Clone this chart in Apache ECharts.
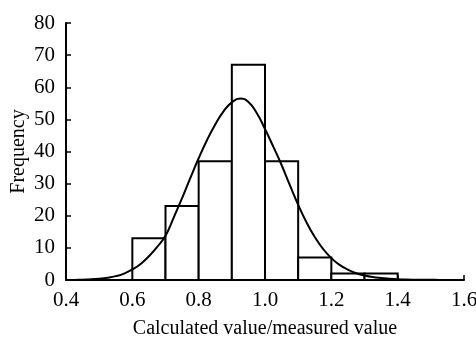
<!DOCTYPE html>
<html>
<head>
<meta charset="utf-8">
<script src="https://cdn.jsdelivr.net/npm/echarts@6/dist/echarts.min.js"></script>
<style>
  html, body { margin: 0; padding: 0; background: #fff; }
  #chart { width: 476px; height: 338px; }
</style>
</head>
<body>
<div id="chart"></div>
<script>
// histogram bins (calculated value / measured value)
var binStart = [0.6, 0.7, 0.8, 0.9, 1.0, 1.1, 1.2, 1.3];
var binEnd = [0.7, 0.8, 0.9, 1.0, 1.1, 1.2, 1.3, 1.4];
var counts = [13, 23, 37, 67, 37, 7, 2, 2];

// fitted curve
var curveX = [0.4, 0.425, 0.45, 0.475, 0.5, 0.525, 0.55, 0.575, 0.6, 0.625, 0.65, 0.675,
  0.7, 0.725, 0.75, 0.775, 0.8, 0.825, 0.85, 0.875, 0.9, 0.925, 0.95, 0.975,
  1.0, 1.025, 1.05, 1.075, 1.1, 1.125, 1.15, 1.175, 1.2, 1.225, 1.25, 1.275,
  1.3, 1.325, 1.35, 1.375, 1.4, 1.425, 1.45, 1.475, 1.5, 1.525, 1.55, 1.575, 1.6];
var curveY = [0, 0, 0.1, 0.2, 0.4, 0.7, 1.2, 2.0, 3.3, 5.0, 7.4, 10.3,
  13.8, 19.5, 25.5, 31.8, 37.9, 43.5, 48.4, 52.5, 55.3, 56.5, 55.4, 52,
  47, 41.5, 35.8, 29.5, 23.4, 18, 13.4, 9.7, 6.8, 4.7, 3.2, 2.1,
  1.4, 0.9, 0.6, 0.4, 0.25, 0.15, 0.1, 0.07, 0.05, 0.03, 0.02, 0, 0];

var font = 'Liberation Serif';

var chart = echarts.init(document.getElementById('chart'));

var barData = binStart.map(function (s, i) {
  return [s, binEnd[i], counts[i]];
});
var curveData = curveX.map(function (x, i) {
  return [x, curveY[i]];
});

var option = {
  animation: false,
  grid: { left: 66, right: 12, top: 23, bottom: 58, outerBoundsMode: 'none', containLabel: false },
  xAxis: {
    type: 'value',
    min: 0.4,
    max: 1.6,
    interval: 0.2,
    name: 'Calculated value/measured value',
    nameLocation: 'middle',
    nameGap: 39,
    nameMoveOverlap: false,
    nameTextStyle: { color: '#000', fontFamily: font, fontSize: 20 },
    axisLine: { show: true, lineStyle: { color: '#000', width: 2 } },
    axisTick: { show: true, inside: true, length: 5, lineStyle: { color: '#000', width: 1.5 } },
    axisLabel: {
      color: '#000', fontFamily: font, fontSize: 21, margin: 10,
      formatter: function (v) { return v.toFixed(1); }
    },
    splitLine: { show: false }
  },
  yAxis: {
    type: 'value',
    min: 0,
    max: 80,
    interval: 10,
    name: 'Frequency',
    nameLocation: 'middle',
    nameGap: 37,
    nameMoveOverlap: false,
    nameTextStyle: { color: '#000', fontFamily: font, fontSize: 20 },
    axisLine: { show: true, lineStyle: { color: '#000', width: 2 } },
    axisTick: { show: true, inside: true, length: 5, lineStyle: { color: '#000', width: 1.5 } },
    axisLabel: { color: '#000', fontFamily: font, fontSize: 21, margin: 11 },
    splitLine: { show: false }
  },
  series: [
    {
      type: 'custom',
      data: barData,
      encode: { x: [0, 1], y: 2 },
      renderItem: function (params, api) {
        var p0 = api.coord([api.value(0), api.value(2)]);
        var p1 = api.coord([api.value(1), 0]);
        return {
          type: 'rect',
          shape: { x: p0[0], y: p0[1], width: p1[0] - p0[0], height: p1[1] - p0[1] },
          style: { fill: '#fff', stroke: '#000', lineWidth: 2 }
        };
      },
      z: 2
    },
    {
      type: 'line',
      data: curveData,
      smooth: true,
      symbol: 'none',
      lineStyle: { color: '#000', width: 2 },
      z: 3
    }
  ]
};

chart.setOption(option);
</script>
</body>
</html>
